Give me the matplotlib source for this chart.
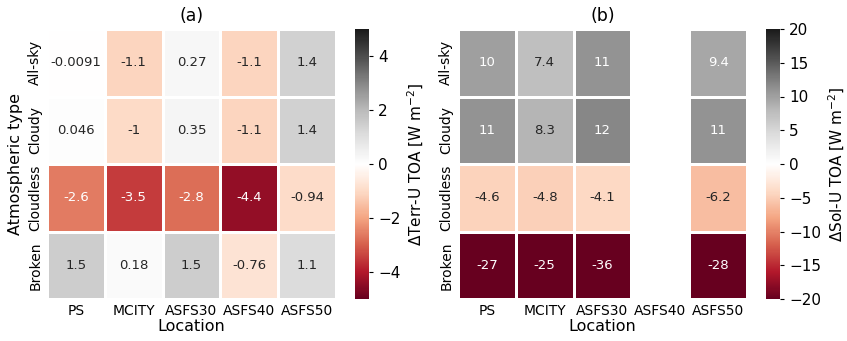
import numpy as np
import matplotlib
matplotlib.use("Agg")
import matplotlib.pyplot as plt
import seaborn as sns

locations = ["PS", "MCITY", "ASFS30", "ASFS40", "ASFS50"]
atm_types = ["All-sky", "Cloudy", "Cloudless", "Broken"]

# (a) Delta Terr-U TOA
terr_allsky = [-0.0091, -1.1, 0.27, -1.1, 1.4]
terr_cloudy = [0.046, -1.0, 0.35, -1.1, 1.4]
terr_cloudless = [-2.6, -3.5, -2.8, -4.4, -0.94]
terr_broken = [1.5, 0.18, 1.5, -0.76, 1.1]

# (b) Delta Sol-U TOA (no data for ASFS40)
sol_allsky = [10, 7.4, 11, np.nan, 9.4]
sol_cloudy = [11, 8.3, 12, np.nan, 11]
sol_cloudless = [-4.6, -4.8, -4.1, np.nan, -6.2]
sol_broken = [-27, -25, -36, np.nan, -28]

terr = np.array([terr_allsky, terr_cloudy, terr_cloudless, terr_broken])
sol = np.array([sol_allsky, sol_cloudy, sol_cloudless, sol_broken])

plt.rcParams['font.family'] = ['DejaVu Sans']
fig = plt.figure(figsize=(8.47, 3.41), dpi=100)

W, H = 847, 341
def box(x0, y0, x1, y1):
    return [x0 / W, 1 - y1 / H, (x1 - x0) / W, (y1 - y0) / H]

ax1 = fig.add_axes(box(47, 29, 336, 299))
cax1 = fig.add_axes(box(355, 29, 369, 299))
ax2 = fig.add_axes(box(458, 29, 747, 299))
cax2 = fig.add_axes(box(766, 29, 780, 299))

sns.heatmap(terr, ax=ax1, cbar_ax=cax1, cmap="RdGy", vmin=-5, vmax=5,
            annot=True, fmt=".2g", annot_kws={"size": 9.5},
            linewidths=1, linecolor="white",
            xticklabels=locations, yticklabels=atm_types,
            cbar_kws={"label": r"$\Delta$Terr-U TOA [W m$^{-2}$]"})
sns.heatmap(sol, ax=ax2, cbar_ax=cax2, cmap="RdGy", vmin=-20, vmax=20,
            annot=True, fmt=".2g", annot_kws={"size": 9.5},
            linewidths=1, linecolor="white",
            xticklabels=locations, yticklabels=atm_types,
            cbar_kws={"label": r"$\Delta$Sol-U TOA [W m$^{-2}$]"})

ax1.set_title("(a)", fontsize=12.5)
ax2.set_title("(b)", fontsize=12.5)
ax1.set_ylabel("Atmospheric type", fontsize=11.5)
for ax in (ax1, ax2):
    ax.set_xlabel("Location", fontsize=11.5, labelpad=1)
    ax.tick_params(axis="both", length=0, labelsize=10)
    plt.setp(ax.get_yticklabels(), rotation=90, va="center")
    plt.setp(ax.get_xticklabels(), rotation=0)
for cax in (cax1, cax2):
    cax.tick_params(labelsize=11, length=3)
    cax.yaxis.label.set_size(11)

fig.savefig("out.png", dpi=100)
